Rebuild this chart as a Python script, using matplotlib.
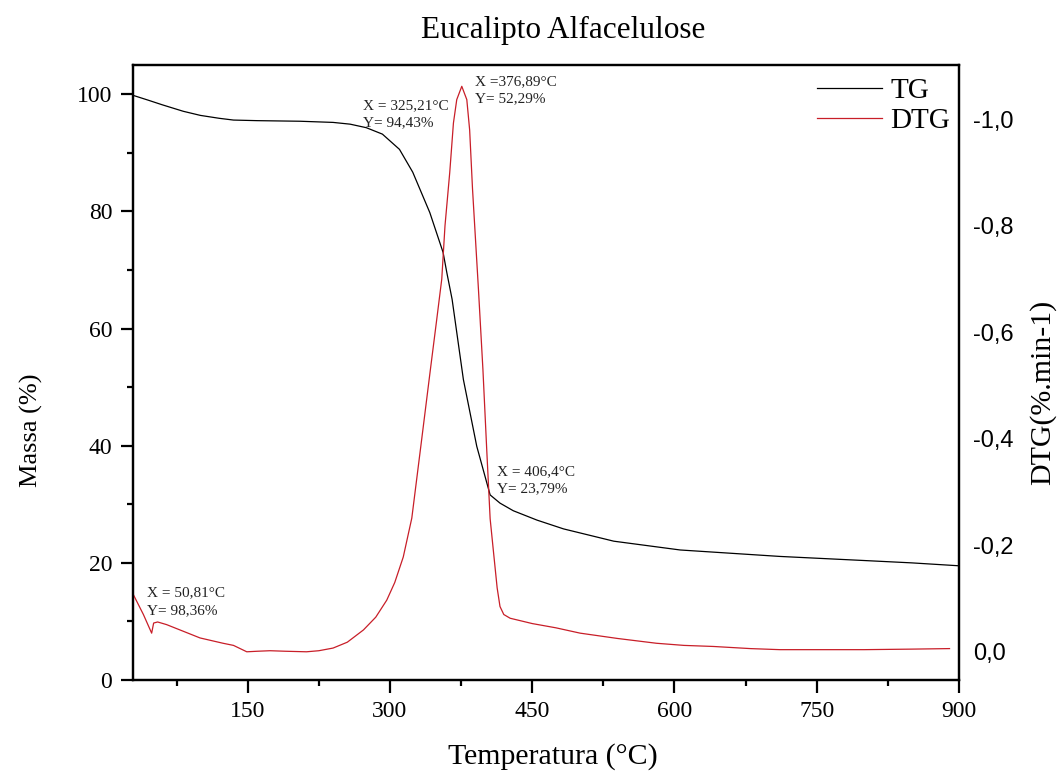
import matplotlib
matplotlib.use('Agg')
import matplotlib.pyplot as plt
from matplotlib.ticker import MultipleLocator, FixedLocator

# ---- data ----
tg_temp = [29.5, 45, 60, 82, 100, 120, 135, 160, 205, 240, 258, 275, 292, 310,
           324, 342, 356, 360, 365.5, 377.4, 391.5, 405.6, 416, 430, 455, 483,
           536, 592, 606, 711, 800, 850, 900]
tg_mass = [99.8, 99.0, 98.2, 97.1, 96.4, 95.9, 95.6, 95.5, 95.4, 95.2, 94.9, 94.3, 93.2, 90.6,
           86.7, 79.8, 73.0, 69.5, 65.0, 51.3, 39.9, 31.6, 30.2, 28.9, 27.3, 25.8,
           23.7, 22.5, 22.2, 21.1, 20.4, 20.0, 19.5]

dtg_temp = [29.5, 40, 48.7, 50.8, 55, 64.5, 80, 99.7, 124, 135, 149, 160, 173.5, 190,
            212, 225, 240, 255, 272, 285, 296.6, 305, 314, 323, 333.5, 342.6, 349,
            354.6, 358, 363, 366.9, 370.4, 375.7, 381, 384, 387, 393.3, 398, 402,
            405.6, 409, 413, 416, 420, 426.7, 450, 475, 500.5, 540, 581, 610, 641,
            680, 711, 800, 850, 890]
dtg_val = [-0.107, -0.07, -0.035, -0.054, -0.056, -0.051, -0.04, -0.026, -0.016, -0.012, 0.0,
           -0.001, -0.002, -0.001, 0.0, -0.002, -0.007, -0.018, -0.041, -0.065, -0.097,
           -0.13, -0.178, -0.251, -0.40, -0.53, -0.62, -0.70, -0.80, -0.90, -0.993,
           -1.037, -1.062, -1.037, -0.98, -0.87, -0.68, -0.53, -0.38, -0.25, -0.19,
           -0.12, -0.085, -0.07, -0.063, -0.053, -0.045, -0.035, -0.025, -0.016,
           -0.012, -0.01, -0.006, -0.004, -0.004, -0.005, -0.006]

notes = ['X = 325,21°C\nY= 94,43%', 'X =376,89°C\nY= 52,29%',
         'X = 406,4°C\nY= 23,79%', 'X = 50,81°C\nY= 98,36%']
note_x = [271.6, 389.8, 413.0, 43.8]
note_y = [96.6, 100.7, 34.1, 13.4]

serif = 'Liberation Serif'
sans = 'Liberation Sans'
red = '#c81e28'

fig = plt.figure(figsize=(10.57, 7.73), dpi=100)
ax = fig.add_axes([0.1258, 0.1203, 0.7815, 0.7956])
ax2 = ax.twinx()

l1, = ax.plot(tg_temp, tg_mass, color='black', lw=0.9)
l2, = ax2.plot(dtg_temp, dtg_val, color=red, lw=0.9)

ax.set_xlim(29, 900)
ax.set_ylim(0, 105)
ax2.set_ylim(0.053, -1.102)

ax.xaxis.set_major_locator(FixedLocator([150, 300, 450, 600, 750, 900]))
ax.xaxis.set_minor_locator(FixedLocator([75, 225, 375, 525, 675, 825]))
ax.yaxis.set_major_locator(MultipleLocator(20))
ax.yaxis.set_minor_locator(MultipleLocator(10))
ax2.yaxis.set_major_locator(FixedLocator([-1.0, -0.8, -0.6, -0.4, -0.2, 0.0]))
ax2.set_yticklabels(['-1,0', '-0,8', '-0,6', '-0,4', '-0,2', '0,0'])

for axis in ['top', 'bottom', 'left', 'right']:
    ax.spines[axis].set_linewidth(1.6)
    ax2.spines[axis].set_linewidth(1.6)

ax.tick_params(axis='both', which='major', direction='out', length=9, width=1.6, labelsize=17, pad=6)
ax.tick_params(axis='both', which='minor', direction='out', length=4.5, width=1.6)
ax.tick_params(axis='x', which='both', top=False)
ax.tick_params(axis='y', which='both', right=False)
for t in ax.get_xticklabels() + ax.get_yticklabels():
    t.set_fontfamily(serif)
ax2.tick_params(axis='y', length=0, pad=10, labelsize=17)
for t in ax2.get_yticklabels():
    t.set_fontfamily(sans)

ax.set_xlabel('Temperatura (°C)', fontsize=21.5, fontfamily=serif)
ax.set_ylabel('Massa (%)', fontsize=19, fontfamily=serif)
ax2.set_ylabel('DTG(%.min-1)', fontsize=21.5, fontfamily=serif)
ax.xaxis.set_label_coords(0.508, -0.103)
ax.yaxis.set_label_coords(-0.109, 0.406)
ax2.yaxis.set_label_coords(1.085, 0.468)
fig.text(0.5326, 0.961, 'Eucalipto Alfacelulose', ha='center', va='center',
         fontsize=22.5, fontfamily=serif)

for s, x, y in zip(notes, note_x, note_y):
    ax.text(x, y, s, fontsize=11, fontfamily=serif, ha='left', va='center',
            linespacing=1.45, color='#222222')

leg = ax.legend([l1, l2], ['TG', 'DTG'], loc='upper left',
                bbox_to_anchor=(817 / 1057, 1 - 78 / 773), bbox_transform=fig.transFigure,
                frameon=False, prop={'family': serif, 'size': 21},
                handlelength=2.24, handletextpad=0.28, labelspacing=0.1,
                borderpad=0, borderaxespad=0)

fig.savefig('out.png', dpi=100)
